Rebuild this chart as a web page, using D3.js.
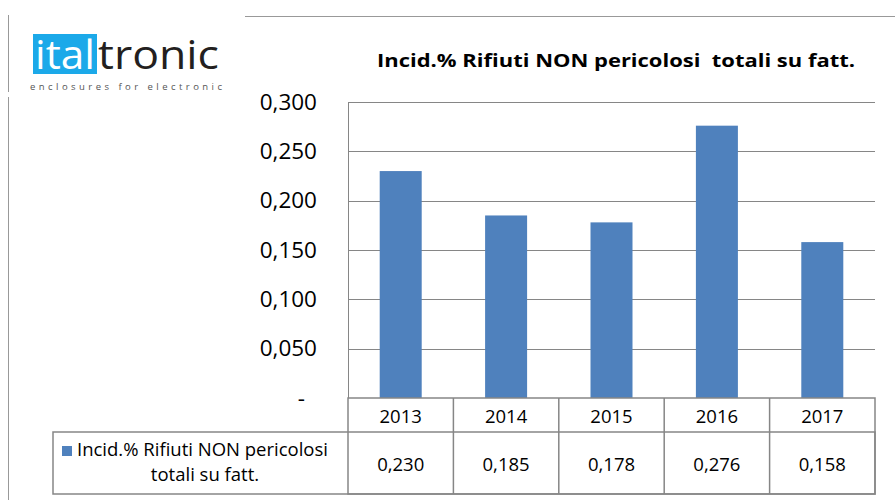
<!DOCTYPE html>
<html>
<head>
<meta charset="utf-8">
<script src="https://cdn.jsdelivr.net/npm/d3@7"></script>
<style>
  body { margin: 0; background: #fff; }
  text { font-family: "Open Sans", "Lato", sans-serif; }
</style>
</head>
<body>
<div id="screen"></div>
<script>
// years along the bottom
var years = ["2013", "2014", "2015", "2016", "2017"];

// the one series
var seriesName = "Incid.% Rifiuti NON pericolosi totali su fatt.";
var values = [0.230, 0.185, 0.178, 0.276, 0.158];

// y ticks
var yTicks = [0, 0.05, 0.10, 0.15, 0.20, 0.25, 0.30];

var W = 895, H = 500;
var plot = {left: 348, right: 875, top: 102, bottom: 398};
var rowCat = 432, rowEnd = 494, legendLeft = 53;

var fmt = function(v){ return v.toFixed(3).replace(".", ","); };

var svg = d3.select("#screen").append("svg")
  .attr("width", W)
  .attr("height", H);

svg.append("rect").attr("width", W).attr("height", H).attr("fill", "#fff");

// page frame bits
svg.append("line").attr("x1", 8.5).attr("x2", 8.5).attr("y1", 15).attr("y2", 92)
  .attr("stroke", "#999").attr("stroke-width", 1);
svg.append("line").attr("x1", 8.5).attr("x2", 8.5).attr("y1", 97).attr("y2", 500)
  .attr("stroke", "#999").attr("stroke-width", 1);
svg.append("line").attr("x1", 245).attr("x2", 895).attr("y1", 16.5).attr("y2", 16.5)
  .attr("stroke", "#999").attr("stroke-width", 1);

// logo
var logo = svg.append("g");
logo.append("rect").attr("x", 33).attr("y", 34).attr("width", 64).attr("height", 40).attr("fill", "#1ba9e9");
logo.append("text").attr("x", 35).attr("y", 69).attr("fill", "#fff")
  .attr("font-size", 40).attr("font-family", "Liberation Sans, Arial, sans-serif")
  .attr("textLength", 60).attr("lengthAdjust", "spacingAndGlyphs").text("ital");
logo.append("text").attr("x", 98).attr("y", 69).attr("fill", "#231f20")
  .attr("font-size", 40).attr("font-family", "Liberation Sans, Arial, sans-serif")
  .attr("textLength", 121).attr("lengthAdjust", "spacingAndGlyphs").text("tronic");
logo.append("text").attr("x", 30).attr("y", 90).attr("fill", "#555")
  .attr("font-size", 9.5).attr("font-family", "Liberation Sans, Arial, sans-serif")
  .attr("textLength", 192).attr("lengthAdjust", "spacing").text("enclosures for electronic");

// title
svg.append("text").attr("x", 616).attr("y", 67).attr("text-anchor", "middle")
  .attr("font-size", 18).attr("font-weight", "bold").attr("fill", "#000")
  .attr("textLength", 478).attr("lengthAdjust", "spacingAndGlyphs")
  .text("Incid.% Rifiuti NON pericolosi\u00a0 totali su fatt.");

// scales
var x = d3.scaleBand().domain(years).range([plot.left, plot.right]).paddingInner(0).paddingOuter(0);
var y = d3.scaleLinear().domain([0, 0.3]).range([plot.bottom, plot.top]);

// gridlines
svg.append("g").selectAll("line").data(yTicks.filter(function(d){ return d > 0; }))
  .enter().append("line")
  .attr("x1", plot.left).attr("x2", plot.right)
  .attr("y1", d => Math.round(y(d)) + 0.5).attr("y2", d => Math.round(y(d)) + 0.5)
  .attr("stroke", "#868686").attr("stroke-width", 1);

// y axis labels
var yAxis = d3.axisLeft(y).tickValues(yTicks).tickSize(0).tickPadding(31)
  .tickFormat(function(d){ return d === 0 ? "-" : fmt(d); });
var ya = svg.append("g").attr("transform", "translate(" + plot.left + ",0)").call(yAxis);
ya.select(".domain").remove();
ya.selectAll("text").attr("font-size", 22.5).attr("fill", "#000")
  .attr("font-family", "Open Sans, sans-serif")
  .attr("dx", d => d === 0 ? -12 : 0);

// bars
var barW = 42;
svg.append("g").selectAll("rect").data(values).enter().append("rect")
  .attr("x", (d, i) => x(years[i]) + x.bandwidth() / 2 - barW / 2)
  .attr("width", barW)
  .attr("y", d => y(d))
  .attr("height", d => y(0) - y(d))
  .attr("fill", "#4f81bd");

// plot left border
svg.append("line").attr("x1", plot.left + 0.5).attr("x2", plot.left + 0.5)
  .attr("y1", plot.top).attr("y2", plot.bottom)
  .attr("stroke", "#868686");

// data table
var tbl = svg.append("g").attr("stroke", "#868686").attr("stroke-width", 1.5).attr("fill", "none");
tbl.append("rect").attr("x", plot.left).attr("y", plot.bottom)
  .attr("width", plot.right - plot.left).attr("height", rowEnd - plot.bottom);
tbl.append("rect").attr("x", legendLeft).attr("y", rowCat)
  .attr("width", plot.right - legendLeft).attr("height", rowEnd - rowCat);
tbl.selectAll(".vline").data(years.slice(1)).enter().append("line")
  .attr("x1", d => x(d)).attr("x2", d => x(d))
  .attr("y1", plot.bottom).attr("y2", rowEnd);

// year labels
svg.append("g").selectAll("text").data(years).enter().append("text")
  .attr("x", d => x(d) + x.bandwidth() / 2).attr("y", 423)
  .attr("text-anchor", "middle").attr("font-size", 18.5).attr("fill", "#000")
  .text(d => d);

// value labels
svg.append("g").selectAll("text").data(values).enter().append("text")
  .attr("x", (d, i) => x(years[i]) + x.bandwidth() / 2).attr("y", 471)
  .attr("text-anchor", "middle").attr("font-size", 18.5).attr("fill", "#000")
  .text(d => fmt(d));

// legend cell
svg.append("rect").attr("x", 62).attr("y", 446).attr("width", 10).attr("height", 10).attr("fill", "#4f81bd");
svg.append("text").attr("x", 77).attr("y", 456).attr("font-size", 18.5).attr("fill", "#000")
  .text("Incid.% Rifiuti NON pericolosi");
svg.append("text").attr("x", 205).attr("y", 481).attr("text-anchor", "middle").attr("font-size", 18.5).attr("fill", "#000")
  .text("totali su fatt.");
</script>
</body>
</html>
